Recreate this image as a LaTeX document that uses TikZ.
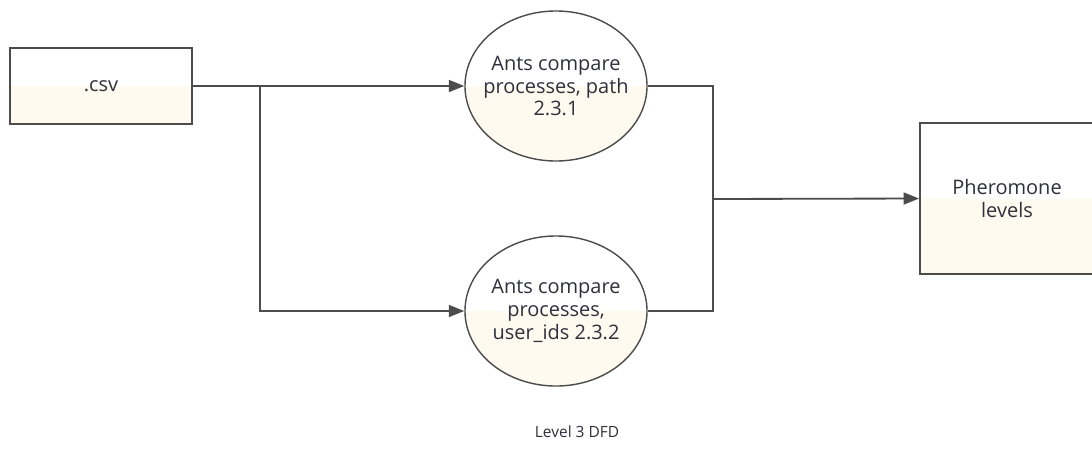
\documentclass[tikz,border=0pt]{standalone}
\usepackage{fontspec}
\setmainfont{Open Sans}
\usetikzlibrary{shapes,arrows.meta,positioning,calc}
\usepackage{xcolor}
\definecolor{cream}{HTML}{FFFAF0}
\definecolor{edge}{HTML}{4C4C4C}
\definecolor{ink}{HTML}{30303C}

\begin{document}
\begin{tikzpicture}[
  x=0.025cm, y=-0.025cm,
  halffill/.style={path picture={\fill[cream] (path picture bounding box.west) rectangle (path picture bounding box.south east);}},
  label text/.style={text=ink, align=center, font=\fontsize{14.2}{16.2}\selectfont, inner sep=0pt},
  store/.style={rectangle, draw=edge, line width=1.3pt, halffill, label text},
  proc/.style={ellipse, draw=edge, line width=1pt, halffill, minimum width=4.55cm, minimum height=3.75cm, inner sep=0pt,
    label={[label text]center:#1}},
  flow/.style={draw=edge, line width=1.3pt},
  arrow/.style={flow, -{Triangle[length=11pt,width=8.5pt]}}
]
  \clip (0,0) rectangle (1092,468);
  \fill[white] (0,0) rectangle (1092,468);

  \node[store, minimum width=4.55cm, minimum height=1.9cm] (csv) at (101,86) {.csv};
  \node[proc={Ants compare\\processes, path\\2.3.1}] (path) at (556,86) {};
  \node[proc={Ants compare\\processes,\\user\_ids 2.3.2}] (users) at (556,311) {};
  \node[store, minimum width=4.35cm, minimum height=3.775cm] (pher) at (1007,198.5) {Pheromone\\levels};
  \node[text=ink, font=\fontsize{11}{13}\selectfont] (caption) at (577,432) {Level 3 DFD};

  \coordinate (split) at (260,86);
  \coordinate (join) at (713,199);

  \draw[flow] (csv.east) -- (split);
  \draw[arrow] (split) -- (path.west);
  \draw[arrow] (split) |- (users.west);
  \draw[flow] (path.east) -| (join);
  \draw[flow] (users.east) -| (join);
  \draw[arrow] (join) -- (pher.west);
\end{tikzpicture}
\end{document}
